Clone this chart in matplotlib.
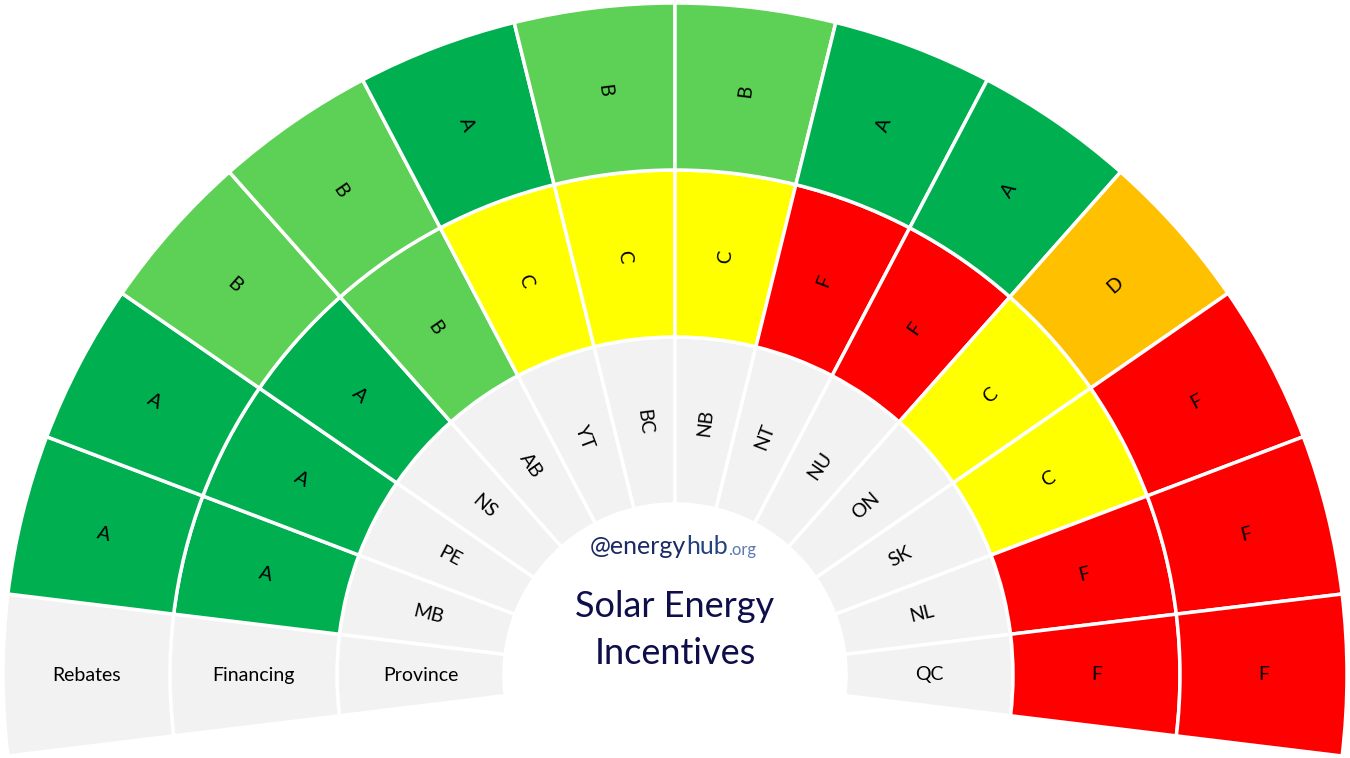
import numpy as np
import matplotlib.pyplot as plt

plt.rcParams['font.family'] = ['Lato', 'DejaVu Sans']

# provinces run clockwise from the left end of the arc
provinces = ['MB', 'PE', 'NS', 'AB', 'YT', 'BC', 'NB', 'NT', 'NU', 'ON', 'SK', 'NL', 'QC']
financing = ['A', 'A', 'A', 'B', 'C', 'C', 'C', 'F', 'F', 'C', 'C', 'F', 'F']
rebates = ['A', 'A', 'B', 'B', 'A', 'B', 'B', 'A', 'A', 'D', 'F', 'F', 'F']
headers = ['Province', 'Financing', 'Rebates']

grade_colors = {'A': '#00B050', 'B': '#5DD155', 'C': '#FFFF00',
                'D': '#FFC000', 'F': '#FF0000'}
GREY = '#F2F2F2'

W, H = 1350, 758
CX, CY = 675, 83          # centre of the rings, in pixels from bottom-left
R = 672                   # outer radius
RING = 167                # width of each ring
HIDDEN = 12               # blank share closing the ring under the arc

n = len(provinces) + 1
step = 360 / (n + HIDDEN)
start = 90 + step * n / 2

fig = plt.figure(figsize=(W / 100, H / 100), dpi=100)
ax = fig.add_axes([0, 0, 1, 1])

rings = [
    (R - 2 * RING, [headers[0]] + provinces, [GREY] * n),
    (R - RING, [headers[1]] + financing,
     [GREY] + [grade_colors[g] for g in financing]),
    (R, [headers[2]] + rebates,
     [GREY] + [grade_colors[g] for g in rebates]),
]

for radius, labels, colors in rings:
    wedges, _ = ax.pie([1] * n + [HIDDEN], radius=radius, center=(CX, CY),
                       startangle=start, counterclock=False,
                       colors=colors + ['white'], frame=True,
                       wedgeprops=dict(width=RING, edgecolor='white',
                                       linewidth=2.5))
    wedges[-1].set_visible(False)
    r_mid = radius - RING / 2
    for w, lab in zip(wedges[:-1], labels):
        ang = (w.theta1 + w.theta2) / 2
        x = CX + r_mid * np.cos(np.radians(ang))
        y = CY + r_mid * np.sin(np.radians(ang))
        rot = ang if -90 < ang < 90 else ang - 180
        ax.text(x, y, lab, ha='center', va='center', rotation=rot,
                rotation_mode='anchor', fontsize=14, color='black')

# centre title and logo
ax.text(CX, 128, 'Solar Energy\nIncentives', ha='center', va='center',
        fontsize=26, color='#0E0E4A', linespacing=1.55)
t1 = ax.text(686, 200, '@energy', ha='right', va='bottom',
             fontsize=18, color='#1B2A63')
t2 = ax.annotate('hub', xy=(1, 0), xycoords=t1, ha='left', va='bottom',
                 fontsize=18, color='#24427F')
ax.annotate('.org', xy=(1, 0), xycoords=t2, ha='left', va='bottom',
            fontsize=12, color='#5A7BAE')

ax.set_xlim(0, W)
ax.set_ylim(0, H)
ax.set_aspect('equal')
ax.axis('off')

fig.savefig('out.png', dpi=100, facecolor='white')
